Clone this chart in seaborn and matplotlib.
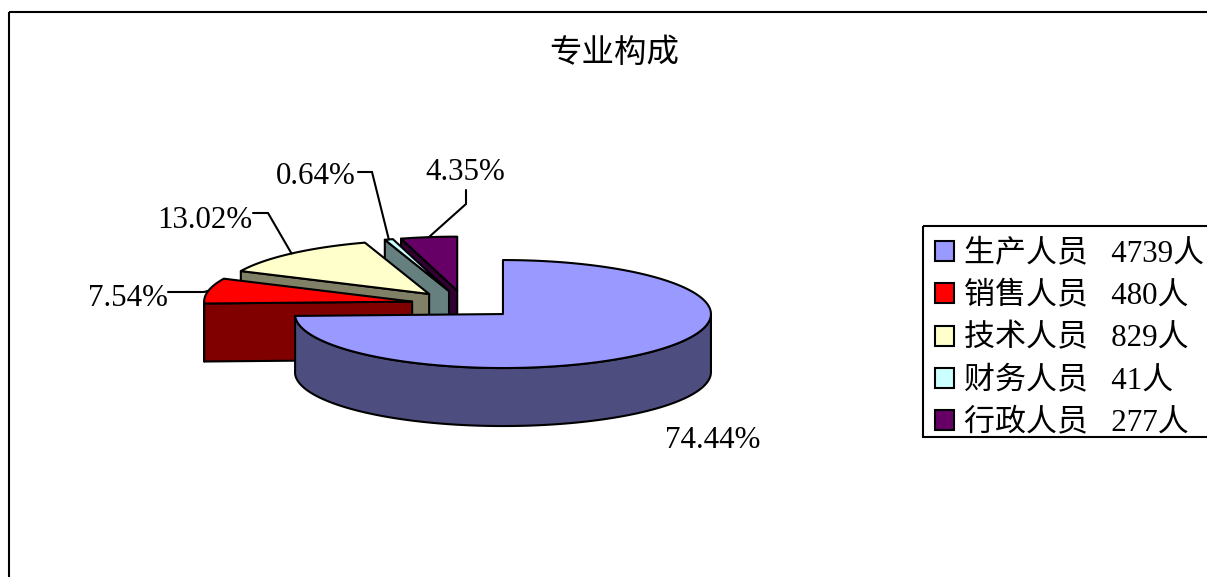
import numpy as np
import seaborn as sns
import matplotlib
matplotlib.use('Agg')
import matplotlib.pyplot as plt
from matplotlib.patches import Patch, Polygon, Rectangle

names = ['生产人员', '销售人员', '技术人员', '财务人员', '行政人员']
counts = [4739, 480, 829, 41, 277]
top_colors = ['#9999FF', '#FF0000', '#FFFFCC', '#CCFFFF', '#660066']
side_colors = ['#4D4D80', '#800000', '#808066', '#668080', '#330033']
title = '专业构成'

sns.set_theme(style='white')
plt.rcParams['font.family'] = ['Liberation Serif', 'Noto Sans CJK SC']

# pie geometry in pixels, the axes run in image coordinates
CX, CY = 464.5, 304.4
RX, RY = 208, 54
DEPTH = 58
EXPLODE = 0.257
LW = 1.5
FS = 22.3

fig = plt.figure(figsize=(12.07, 5.77), dpi=100)
ax = fig.add_axes([0, 0, 1, 1])
ax.set_xlim(0, 1207)
ax.set_ylim(577, 0)
ax.axis('off')

ax.add_patch(Rectangle((9, 12), 1400, 800, fill=False, ec='black', lw=LW))

shares = np.array(counts) / sum(counts)
ends = np.cumsum(shares) * 2 * np.pi
starts = ends - shares * 2 * np.pi
mids = (starts + ends) / 2
apex_x = CX + EXPLODE * RX * np.sin(mids)
apex_y = CY - EXPLODE * RY * np.cos(mids)


def rim(i, t):
    return apex_x[i] + RX * np.sin(t), apex_y[i] - RY * np.cos(t)


def face(xs, ys, color):
    ax.add_patch(Polygon(np.column_stack([xs, ys]), closed=True, fc=color, ec='black',
                         lw=LW, joinstyle='round'))


# back slices first, the big one last
for i in [4, 3, 2, 1, 0]:
    a, b = starts[i], ends[i]
    # front of the rim, only the part facing the viewer
    lo, hi = max(a, np.pi / 2), min(b, 3 * np.pi / 2)
    if hi > lo:
        t = np.linspace(lo, hi, 160)
        x, y = rim(i, t)
        face(np.r_[x, x[::-1]], np.r_[y, y[::-1] + DEPTH], side_colors[i])
    # cut face on the left side of the slices behind
    if a > np.pi:
        x, y = rim(i, a)
        face([apex_x[i], x, x, apex_x[i]],
             [apex_y[i], y, y + DEPTH, apex_y[i] + DEPTH], side_colors[i])
    t = np.linspace(a, b, 160)
    x, y = rim(i, t)
    face(np.r_[apex_x[i], x], np.r_[apex_y[i], y], top_colors[i])

labels = [f'{s * 100:.2f}%' for s in shares]
label_pos = [(665, 441), (168, 298), (252, 221), (356, 176), (505, 173)]
label_ha = ['left', 'right', 'right', 'right', 'right']
elbows = [None, (204, 292), (268, 213), (372, 172), (466, 204)]
stubs = [None, (168, 292), (253, 213), (358, 172), (466, 190)]

for i, lab in enumerate(labels):
    ax.text(*label_pos[i], lab, fontsize=FS, ha=label_ha[i], va='center', color='black')
    if elbows[i] is not None:
        x, y = rim(i, mids[i])
        ax.plot([stubs[i][0], elbows[i][0], x], [stubs[i][1], elbows[i][1], y],
                color='black', lw=LW, solid_joinstyle='miter')

ax.text(614, 54, title, fontsize=23.4, ha='center', va='center', color='black')

# the box runs off the right edge of the image, so it is drawn apart from the legend
ax.add_patch(Rectangle((923, 226), 400, 211, fill=False, ec='black', lw=LW))
handles = [Patch(fc=c, ec='black', lw=LW) for c in top_colors]
leg_labels = [f'{n}   {c}人' for n, c in zip(names, counts)]
leg = ax.legend(handles, leg_labels, loc='upper left', bbox_to_anchor=(926, 231),
                bbox_transform=ax.transData, borderaxespad=0, fontsize=FS,
                frameon=False, handlelength=0.62, handleheight=0.62, handletextpad=0.3,
                labelspacing=0.42, borderpad=0.3, labelcolor='black')

fig.savefig('out.png', dpi=100)
